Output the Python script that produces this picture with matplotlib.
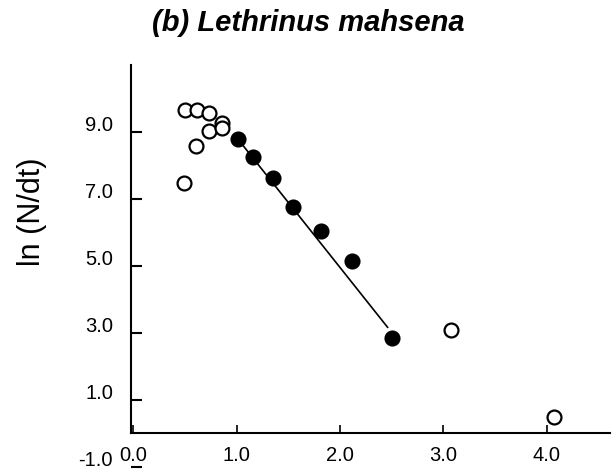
import matplotlib
matplotlib.use("Agg")
import matplotlib.pyplot as plt
import matplotlib.transforms as mtransforms

plt.rcParams['font.family'] = ['Liberation Sans', 'DejaVu Sans']

# Open circles (not used in regression)
open_x = [0.49, 0.50, 0.62, 0.61, 0.73, 0.73, 0.86, 0.86, 3.07, 4.07]
open_y = [7.49, 9.67, 9.67, 8.57, 9.56, 9.02, 9.27, 9.12, 3.09, 0.50]

# Filled circles (used in regression)
fill_x = [1.01, 1.16, 1.35, 1.55, 1.82, 2.12, 2.50]
fill_y = [8.79, 8.24, 7.63, 6.75, 6.04, 5.15, 2.84]

# Regression line end points
line_x = [1.01, 2.46]
line_y = [8.80, 3.17]

xticks = [0.0, 1.0, 2.0, 3.0, 4.0]
xtick_labels = ['0.0', '1.0', '2.0', '3.0', '4.0']
yticks = [-1.0, 1.0, 3.0, 5.0, 7.0, 9.0]
ytick_labels = ['-1.0', '1.0', '3.0', '5.0', '7.0', '9.0']

fig = plt.figure(figsize=(6.12, 4.77), dpi=100)
ax = fig.add_axes([0.2141, 0.0189, 0.7826, 0.8428])

ax.plot(line_x, line_y, color='black', lw=1.2, zorder=2)
ax.plot(open_x, open_y, 'o', ms=10, mfc='white', mec='black', mew=1.6, zorder=3, clip_on=False)
ax.plot(fill_x, fill_y, 'o', ms=10, mfc='black', mec='black', mew=1.6, zorder=3, clip_on=False)

ax.set_xlim(-0.02, 4.61)
ax.set_ylim(-1.0, 11.0)

ax.spines['top'].set_visible(False)
ax.spines['right'].set_visible(False)
ax.spines['bottom'].set_position(('data', 0))
ax.spines['left'].set_bounds(0, 11.0)
for s in ('left', 'bottom'):
    ax.spines[s].set_linewidth(1.5)

ax.set_xticks(xticks)
ax.set_xticklabels(xtick_labels)
ax.set_yticks(yticks)
ax.set_yticklabels(ytick_labels)

ax.tick_params(axis='x', direction='in', length=6, width=1.2, labelsize=14.5, pad=8)
ax.tick_params(axis='y', direction='in', length=8, width=1.5, labelsize=14.5, pad=13)

offset = mtransforms.ScaledTranslation(0, 9 / 100, fig.dpi_scale_trans)
for lab in ax.get_yticklabels():
    lab.set_transform(lab.get_transform() + offset)

fig.text(308 / 612, 1 - 23 / 477, '(b) Lethrinus mahsena', ha='center', va='center',
         fontsize=21, fontweight='bold', fontstyle='italic')
fig.text(32 / 612, 1 - 212 / 477, 'ln (N/dt)', rotation=90, ha='center', va='center',
         fontsize=22)

fig.savefig('out.png', dpi=100)
